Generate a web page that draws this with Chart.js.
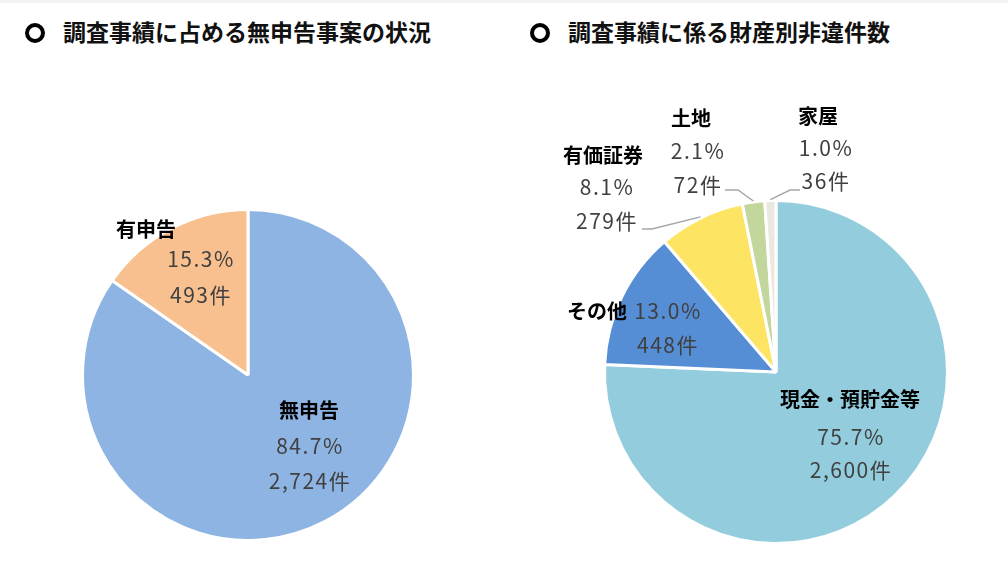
<!DOCTYPE html>
<html lang="ja">
<head>
<meta charset="utf-8">
<script src="https://cdn.jsdelivr.net/npm/chart.js@4/dist/chart.umd.min.js"></script>
<style>
  html, body { margin: 0; padding: 0; background: #fff; }
  body { width: 1008px; height: 581px; position: relative; overflow: hidden; border-top: 3px solid #f2f2f2; box-sizing: border-box; }
  .title { position: absolute; top: 11px; font: bold 23px "Noto Sans CJK JP", sans-serif; color: #111; white-space: nowrap; }
  .ring { position: absolute; top: 20px; width: 12px; height: 12px; border: 4px solid #000; border-radius: 50%; }
  .box { position: absolute; top: -3px; width: 504px; height: 581px; }
</style>
</head>
<body>
<span class="ring" style="left:25px"></span>
<div class="title" style="left:63px">調査事績に占める無申告事案の状況</div>
<span class="ring" style="left:530px"></span>
<div class="title" style="left:568px">調査事績に係る財産別非違件数</div>
<div class="box" style="left:0"><canvas id="leftChart"></canvas></div>
<div class="box" style="left:504px"><canvas id="rightChart"></canvas></div>
<script>
// left pie: 無申告 vs 有申告
var leftLabels = ["無申告", "有申告"];
var leftCounts = [2724, 493];
var leftColors = ["#8EB4E3", "#F9C08F"];

// right pie: assets
var rightLabels = ["現金・預貯金等", "その他", "有価証券", "土地", "家屋"];
var rightCounts = [2600, 448, 279, 72, 36];
var rightColors = ["#93CDDD", "#558ED5", "#FDE462", "#C3D69B", "#EAE8DF"];

// where each label sits, relative to the pie centre (px)
var leftPlace = [
    { nx: 61, ny: 35, vx: 61, vy: 71, gap: 35 },
    { nx: -102, ny: -146, vx: -48, vy: -116, gap: 36 }
];
var rightPlace = [
    { nx: 74, ny: 27, vx: 74, vy: 65, gap: 33 },
    { nx: -179, ny: -61, vx: -109, vy: -61, gap: 34 },
    { nx: -173, ny: -217, vx: -170, vy: -185, gap: 34, line: [[-134, -143], [-124, -143]] },
    { nx: -85, ny: -254, vx: -79, vy: -221, gap: 34, line: [[-51, -182], [-38, -182]] },
    { nx: 42, ny: -256, vx: 49, vy: -224, gap: 33, line: [[24, -182], [14, -182]] }
];

function formatCount(n) {
    return n.toLocaleString("en-US") + "件";
}

var labelPlugin = {
    id: "sliceLabels",
    afterDatasetsDraw: function (chart, args, opts) {
        var ctx = chart.ctx;
        var meta = chart.getDatasetMeta(0);
        var data = chart.data.datasets[0].data;
        var total = data.reduce(function (a, b) { return a + b; }, 0);
        ctx.save();
        ctx.textAlign = "center";
        ctx.textBaseline = "middle";
        meta.data.forEach(function (arc, i) {
            var p = arc.getProps(["x", "y", "startAngle", "endAngle", "outerRadius"], true);
            var pl = opts.place[i];
            if (pl.line) {
                var mid = (p.startAngle + p.endAngle) / 2;
                ctx.strokeStyle = "#A6A6A6";
                ctx.lineWidth = 1.5;
                ctx.beginPath();
                ctx.moveTo(p.x + pl.line[0][0], p.y + pl.line[0][1]);
                ctx.lineTo(p.x + pl.line[1][0], p.y + pl.line[1][1]);
                ctx.lineTo(p.x + Math.cos(mid) * (p.outerRadius + 1), p.y + Math.sin(mid) * (p.outerRadius + 1));
                ctx.stroke();
            }
            ctx.letterSpacing = "0px";
            ctx.fillStyle = "#000";
            ctx.font = "bold 20px 'Noto Sans CJK JP', sans-serif";
            ctx.fillText(chart.data.labels[i], p.x + pl.nx, p.y + pl.ny);
            ctx.letterSpacing = "1.5px";
            ctx.fillStyle = "#404040";
            ctx.font = "21px 'Noto Sans CJK JP', sans-serif";
            ctx.fillText((data[i] / total * 100).toFixed(1) + "%", p.x + pl.vx + 1, p.y + pl.vy);
            ctx.fillText(formatCount(data[i]), p.x + pl.vx + 1, p.y + pl.vy + pl.gap);
        });
        ctx.restore();
    }
};

function makePie(id, labels, counts, colors, place, padding) {
    var ctx = document.getElementById(id).getContext("2d");
    return new Chart(ctx, {
        type: "pie",
        data: {
            labels: labels,
            datasets: [{
                data: counts,
                backgroundColor: colors,
                borderColor: "#fff",
                borderWidth: 3
            }]
        },
        options: {
            responsive: true,
            maintainAspectRatio: false,
            animation: false,
            events: [],
            layout: { padding: padding },
            plugins: {
                legend: { display: false },
                tooltip: { enabled: false },
                sliceLabels: { place: place }
            }
        },
        plugins: [labelPlugin]
    });
}

makePie("leftChart", leftLabels, leftCounts, leftColors, leftPlace,
    { left: 81, top: 208, right: 89, bottom: 39 });
makePie("rightChart", rightLabels, rightCounts, rightColors, rightPlace,
    { left: 99, top: 199, right: 59, bottom: 36 });
</script>
</body>
</html>
